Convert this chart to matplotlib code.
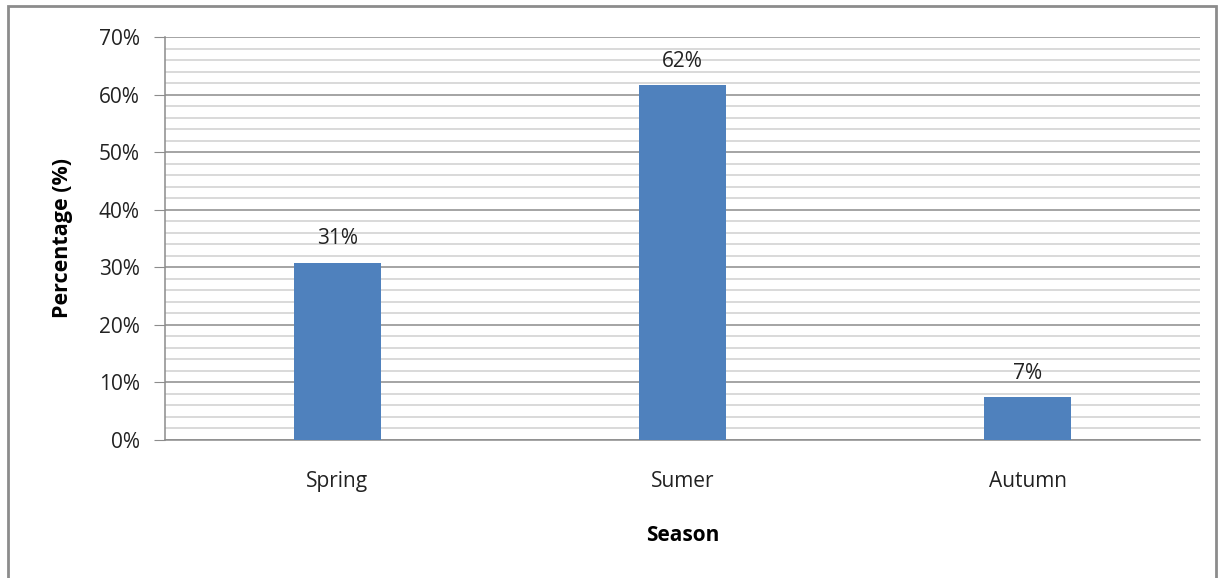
import matplotlib
matplotlib.use("Agg")
import matplotlib.pyplot as plt
from matplotlib.patches import Rectangle
from matplotlib.ticker import MultipleLocator, FuncFormatter

plt.rcParams['font.family'] = ['Open Sans', 'DejaVu Sans']

seasons = ['Spring', 'Sumer', 'Autumn']
share = [30.8, 61.7, 7.4]   # percent of cases per season

fig = plt.figure(figsize=(12.24, 5.78), dpi=100)
ax = fig.add_axes([0.1348, 0.2388, 0.8456, 0.6972])

# outer chart frame
fig.patches.append(Rectangle((8 / 1224, -0.01), 1208 / 1224, 1 - 6 / 578 + 0.01,
                             transform=fig.transFigure, fill=False,
                             edgecolor='#8c8c8c', linewidth=2))

x = range(len(seasons))
bars = ax.bar(x, share, width=0.25, color='#4F81BD', zorder=3)
for bar, val in zip(bars, share):
    ax.text(bar.get_x() + bar.get_width() / 2, val + 2.3, f'{val:.0f}%',
            ha='center', va='bottom', fontsize=15, color='#222222', zorder=4)

ax.set_xlim(-0.5, 2.5)
ax.set_ylim(0, 70)
ax.yaxis.set_major_locator(MultipleLocator(10))
ax.yaxis.set_minor_locator(MultipleLocator(2))
ax.yaxis.set_major_formatter(FuncFormatter(lambda v, p: f'{v:.0f}%'))
ax.grid(True, which='major', axis='y', color='#8c8c8c', linewidth=1.1, zorder=1)
ax.grid(True, which='minor', axis='y', color='#d0d0d0', linewidth=1.1, zorder=1)

ax.set_xticks(list(x))
ax.set_xticklabels(seasons)
ax.tick_params(axis='x', length=0, pad=22, labelsize=15, labelcolor='#222222')
ax.tick_params(axis='y', which='major', length=8, color='#8c8c8c',
               labelsize=15, labelcolor='#222222', pad=10)
ax.tick_params(axis='y', which='minor', length=0)

for side in ['top', 'right']:
    ax.spines[side].set_visible(False)
for side in ['left', 'bottom']:
    ax.spines[side].set_color('#8c8c8c')
    ax.spines[side].set_linewidth(1.1)

ax.set_ylabel('Percentage (%)', fontsize=15.5, fontweight='bold', labelpad=19)
ax.set_xlabel('Season', fontsize=15, fontweight='bold', labelpad=24)

plt.savefig('out.png', dpi=100)
plt.close()
